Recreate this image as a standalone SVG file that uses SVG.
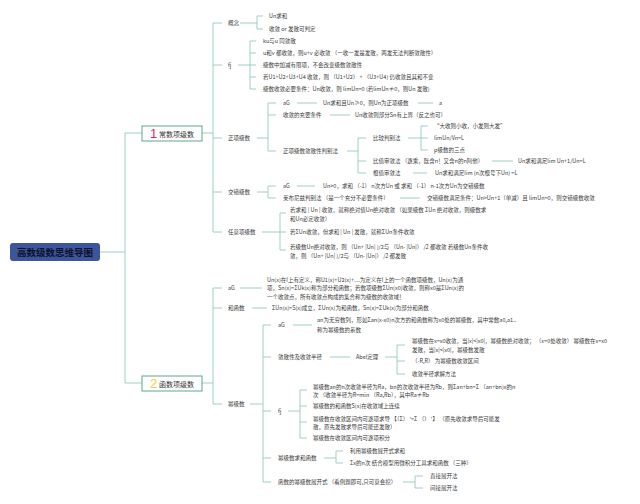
<svg xmlns="http://www.w3.org/2000/svg" width="640" height="504" viewBox="0 0 640 504">
<style>
text{font-family:"Noto Sans CJK SC","Noto Sans",sans-serif;font-size:5.5px;fill:#3a3a3a;dominant-baseline:central}
.c path{fill:none;stroke:#96cbbd;stroke-width:0.9}
.box{fill:#fff;stroke:#5fa595;stroke-width:1}
.bt{font-size:7px;fill:#333}
.num{font-family:"Liberation Sans",sans-serif;font-size:13px}
</style>
<rect width="640" height="504" fill="#fff"/>
<g class="c" id="connectors">
<path d="M100,252H125M125,133V383M125,133H142M125,383H142"/>
<path d="M202,133H213M213,23V232M213,23H222M213,65H222M213,138H222M213,192H222M213,232H222"/>
<path d="M240,23H257M257,16V29M257,16H263M257,29H263"/>
<path d="M238,65H250M250,41V89M250,41H256M250,53H256M250,65H256M250,77H256M250,89H256"/>
<path d="M257,138H268M268,103V151M268,103H276M268,115H276M268,151H276"/>
<path d="M297,103H317M418,103H433M330,115H350"/>
<path d="M347,151H358M358,138V173M358,138H366M358,161H366M358,173H366"/>
<path d="M408,138H421M421,126V150M421,126H428M421,138H428M421,150H428"/>
<path d="M492,161H513M413,173H427"/>
<path d="M257,192H268M268,186V198M268,186H276M268,198H276M297,186H315M400,198H420"/>
<path d="M262,232H280M280,213V250M280,213H286M280,232H286M280,250H286"/>
<path d="M202,383H213M213,288V404M213,288H222M213,308H222M213,404H222"/>
<path d="M240,288H262M252,308H267"/>
<path d="M250,404H263M263,325V482M263,325H271M263,357H271M263,411H271M263,458H271M263,482H271"/>
<path d="M293,325H312M330,357H350M385,357H397M397,345V374M397,345H405M397,361H405M397,374H405"/>
<path d="M288,411H300M300,390V438M300,390H307M300,406H307M300,422H307M300,438H307"/>
<path d="M324,458H336M336,451V463M336,451H343M336,463H343"/>
<path d="M403,482H415M415,476V488M415,476H423M415,488H423"/>
</g>
<g id="root">
<rect x="10" y="243" width="90" height="18" rx="3" fill="#3d5599"/>
<text x="55" y="252" text-anchor="middle" style="font-size:9.5px;font-weight:bold;fill:#0e1230">高数级数思维导图</text>
</g>
<g id="n1">
<rect class="box" x="142" y="126" width="60" height="15"/>
<text class="num" x="150" y="133.5" fill="#e0245e" style="fill:#e0245e;font-size:13px">1</text>
<text class="bt" x="159" y="133.5">常数项级数</text>
</g>
<g id="n2">
<rect class="box" x="142" y="376" width="60" height="15"/>
<text class="num" x="150" y="383.5" style="fill:#f2cf3a;font-size:13px">2</text>
<text class="bt" x="159" y="383.5">函数项级数</text>
</g>
<g id="n1-concept">
<text x="228" y="23">概念</text>
<text x="269" y="16">Un求和</text>
<text x="269" y="29">收敛 or 发散可判定</text>
</g>
<g id="n1-prop">
<text x="228" y="65">fj</text>
<text x="263" y="41">ku与u 同敛散</text>
<text x="263" y="53">u和v 都收敛，则u+v 必收敛 （一收一发是发散，两发无法判断敛散性）</text>
<text x="263" y="65">级数中加减有限项，不会改变级数敛散性</text>
<text x="263" y="77">若U1+U2+U3+U4 收敛，则 （U1+U2） + （U3+U4) 仍收敛且其和不变</text>
<text x="263" y="89">级数收敛必要条件：Un收敛，则 limUn=0 (若limUn≠0，则Un 发散)</text>
</g>
<g id="n1-pos">
<text x="228" y="138">正项级数</text>
<text x="283" y="103">aG</text>
<text x="323" y="103">Un求和且Un≥0，则Un为正项级数</text>
<text x="439" y="103">a</text>
<text x="283" y="115">收敛的充要条件</text>
<text x="355" y="115">Un收敛则部分Sn有上界（反之也可）</text>
<text x="283" y="151">正项级数敛散性判别法</text>
<text x="373" y="138">比较判别法</text>
<text x="434" y="126">“大收则小收，小发则大发”</text>
<text x="434" y="138">limUn/Vn=L</text>
<text x="434" y="150">p级数的三点</text>
<text x="373" y="161">比值审敛法 （逐乘，既含n！又含n的n阿他）</text>
<text x="518" y="161">Un求和满足lim Un+1/Un=L</text>
<text x="373" y="173">根值审敛法</text>
<text x="435" y="173">Un求和满足lim (n次根号下Un) =L</text>
</g>
<g id="n1-alt">
<text x="228" y="192">交错级数</text>
<text x="283" y="186">aG</text>
<text x="323" y="186">Un&gt;0，求和 （-1） n次方Un 或 求和 （-1） n-1次方Un为交错级数</text>
<text x="283" y="198">莱布尼兹判别法 （是一个充分不必要条件）</text>
<text x="427" y="198">交错级数满足条件：Un&gt;Un+1（单减）且 limUn=0，则交错级数收敛</text>
</g>
<g id="n1-any">
<text x="228" y="232">任意项级数</text>
<text x="290" y="210">若求和 | Un | 收敛，就称绝对值Un绝对收敛 （如果级数 ΣUn 绝对收敛，则级数求</text>
<text x="290" y="219">和Un必定收敛）</text>
<text x="290" y="232">若ΣUn收敛，但求和 | Un | 发散，就称ΣUn条件收敛</text>
<text x="290" y="247">若级数Un绝对收敛，则 （Un+ |Un| )/2与 （Un- |Un|） /2 都收敛 若级数Un条件收</text>
<text x="290" y="256">敛，则 （Un+ |Un| )/2与 （Un- |Un|） /2 都发散</text>
</g>
<g id="n2-def">
<text x="228" y="288">aG</text>
<text x="267" y="279.5">Un(x)在I上有定义，称U1(x)+U2(x)+…为定义在I上的一个函数项级数，Un(x)为通</text>
<text x="267" y="288">项，Sn(x)=ΣUk(x)称为部分和函数；若数项级数ΣUn(x0)收敛，则称x0是ΣUn(x)的</text>
<text x="267" y="296.5">一个收敛点，所有收敛点构成的集合称为级数的收敛域！</text>
</g>
<g id="n2-sum">
<text x="228" y="308">和函数</text>
<text x="272" y="308">ΣUn(x)=S(x)成立，ΣUn(x)为和函数，Sn(x)=ΣUk(x)为部分和函数</text>
</g>
<g id="n2-power">
<text x="228" y="404">幂级数</text>
<text x="278" y="325">aG</text>
<text x="317" y="320">an为无穷数列，形如Σan(x-x0)n次方的和函数称为x0处的幂级数，其中常数a0,a1..</text>
<text x="317" y="330">称为幂级数的系数</text>
<text x="278" y="357">敛散性及收敛半径</text>
<text x="356" y="357">Abel定理</text>
<text x="412" y="341">幂级数在x=x0收敛，当|x|&lt;|x0|，幂级数绝对收敛； （x=0处收敛） 幂级数在x=x0</text>
<text x="412" y="350">发散，当|x|&lt;|x0|，幂级数发散</text>
<text x="412" y="361">（-R,R） 为幂级数收敛区间</text>
<text x="412" y="374">收敛半径求解方法</text>
<text x="278" y="411">fj</text>
<text x="313" y="387">幂级数an的n次收敛半径为Ra，bn的次收敛半径为Rb，则Σan+bn=Σ （an+bn)x的n</text>
<text x="313" y="395">次 （收敛半径为R=min （Ra,Rb），其中Ra≠Rb</text>
<text x="313" y="406">幂级数的和函数S(x)在收敛域上连续</text>
<text x="313" y="419">幂级数在收敛区间内可逐项求导 【（Σ） '=Σ （） '】 （原先收敛求导后可能发</text>
<text x="313" y="427">散，原先发散求导后可能还发散）</text>
<text x="313" y="438">幂级数在收敛区间内可逐项积分</text>
<text x="278" y="458">幂级数求和函数</text>
<text x="350" y="451">利用幂级数展开式求和</text>
<text x="350" y="463">Σx的n次 结合模型用微积分工具求和函数 （三种）</text>
<text x="278" y="482">函数的幂级数展开式 （看例题即可,只可意会挖）</text>
<text x="430" y="476">直接展开法</text>
<text x="430" y="488">间接展开法</text>
</g>
</svg>
